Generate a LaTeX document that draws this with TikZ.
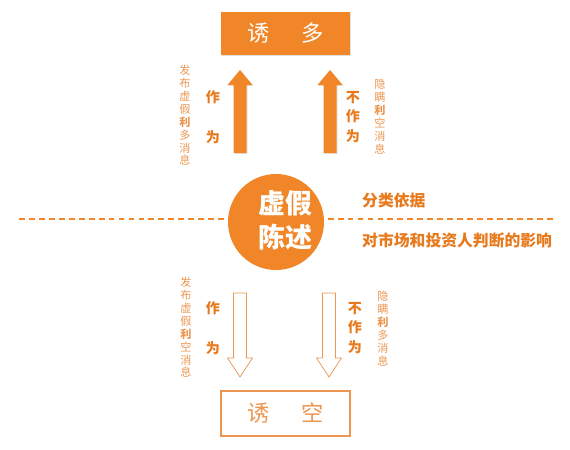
\documentclass[tikz,border=0pt]{standalone}
\usepackage{fontspec}
\newfontfamily\cjk{Noto Sans CJK SC}
\usepackage{tikz}
\usetikzlibrary{positioning, shadows}
\usepackage{xcolor}
\definecolor{orng}{RGB}{240,134,40}
\definecolor{orngtxt}{RGB}{232,122,30}
\definecolor{orngsoft}{RGB}{236,150,80}

\begin{document}
\begin{tikzpicture}[
        x=0.03cm, y=-0.03cm,
        topbox/.style={rectangle, fill=orng, minimum width=129*0.03cm,
                       minimum height=43*0.03cm, inner sep=0pt,
                       drop shadow={opacity=0.25, shadow xshift=1pt, shadow yshift=-1pt},
                       font=\cjk\fontsize{19}{21}\selectfont, text=white},
        botbox/.style={rectangle, draw=orngsoft, line width=0.9pt, fill=white,
                       minimum width=129*0.03cm, minimum height=45*0.03cm, inner sep=0pt,
                       font=\cjk\fontsize{19}{21}\selectfont, text=orngsoft},
        core/.style={circle, fill=orng, minimum size=96*0.03cm, inner sep=0pt},
        coretxt/.style={align=center, text=white, inner sep=0pt,
                        font=\cjk\bfseries\fontsize{23}{29}\selectfont},
        side/.style={align=center, text=orngtxt, inner sep=0pt,
                     font=\cjk\bfseries\fontsize{12}{17}\selectfont},
        note/.style={align=center, text=orngsoft, inner sep=0pt,
                     font=\cjk\fontsize{9.5}{11}\selectfont},
        key/.style={anchor=west, text=orngtxt, inner sep=0pt,
                    font=\cjk\bfseries\fontsize{13.5}{15}\selectfont},
        fullarr/.style={fill=orng, draw=none,
                        drop shadow={opacity=0.2, shadow xshift=1pt, shadow yshift=-1pt}},
        hollowarr/.style={fill=white, draw=orngsoft, line width=0.6pt, line join=miter}
    ]
    \useasboundingbox (0,0) rectangle (570,449);

    % divider
    \draw[orng, line width=2.5pt, dash pattern=on 5pt off 3.5pt] (19,219) -- (555,219);

    % boxes and centre
    \node[topbox] (bull) at (285.5,33.5) {诱\hspace{1.4em}多};
    \node[botbox] (bear) at (285.5,413.5) {诱\hspace{1.4em}空};
    \node[core] (stmt) at (276,222) {};
    \node[coretxt] (stmttxt) at (285,220) {虚假\\陈述};

    % labels on the right
    \node[key] (basis) at (362,200) {分类依据};
    \node[key] (effect) at (362,240) {对市场和投资人判断的影响};

    % upper arrows
    \draw[fullarr] (233.5,153) -- (233.5,85) -- (227.5,85) -- (240,70)
        -- (252.5,85) -- (246.5,85) -- (246.5,153) -- cycle;
    \draw[fullarr] (323.5,153) -- (323.5,85) -- (317.5,85) -- (330,70)
        -- (342.5,85) -- (336.5,85) -- (336.5,153) -- cycle;

    % lower arrows
    \draw[hollowarr] (233.5,293) -- (233.5,358) -- (227.5,358) -- (240,377)
        -- (252.5,358) -- (246.5,358) -- (246.5,293) -- cycle;
    \draw[hollowarr] (322.5,293) -- (322.5,358) -- (316.5,358) -- (329,377)
        -- (341.5,358) -- (335.5,358) -- (335.5,293) -- cycle;

    % upper texts
    \node[note] (n1) at (185,115.5) {发\\布\\虚\\假\\\textbf{利}\\多\\消\\息};
    \node[side] (a1) at (213,117.5) {作\\[17pt]为};
    \node[side] (o1) at (353,117) {不\\作\\为};
    \node[note] (n2) at (380,116.5) {隐\\瞒\\\textbf{利}\\空\\消\\息};

    % lower texts
    \node[note] (n3) at (186,327.5) {发\\布\\虚\\假\\\textbf{利}\\空\\消\\息};
    \node[side] (a2) at (213,328) {作\\[17pt]为};
    \node[side] (o2) at (355,328) {不\\作\\为};
    \node[note] (n4) at (383,328.5) {隐\\瞒\\\textbf{利}\\多\\消\\息};
\end{tikzpicture}
\end{document}
